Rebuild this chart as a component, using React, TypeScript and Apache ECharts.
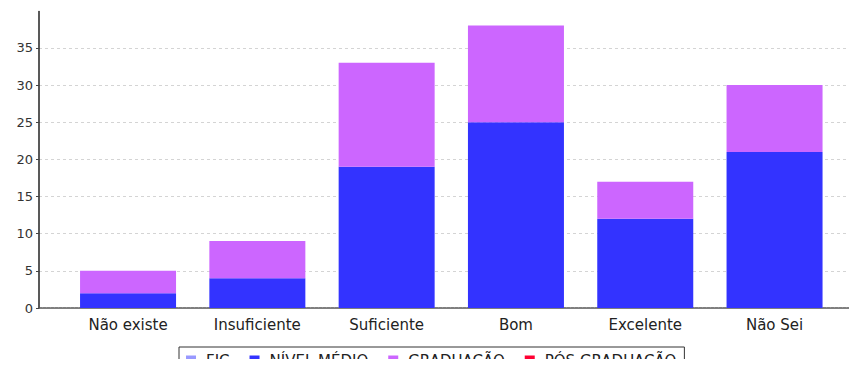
import React, { useEffect, useRef } from "react";
import * as echarts from "echarts";

const categories = ["Não existe", "Insuficiente", "Suficiente", "Bom", "Excelente", "Não Sei"];
const seriesNames = ["FIC", "NÍVEL MÉDIO", "GRADUAÇÃO", "PÓS GRADUAÇÃO"];
const fic = [0, 0, 0, 0, 0, 0];
const nivelMedio = [2, 4, 19, 25, 12, 21];
const graduacao = [3, 5, 14, 13, 5, 9];
const posGraduacao = [0, 0, 0, 0, 0, 0];
const colors = ["#9999FF", "#3333FF", "#CC66FF", "#FF0033"];

const FONT = "DejaVu Sans";
const Y_MAX = 39.9;
const H = 390;

export default function App() {
  const ref = useRef<HTMLDivElement>(null);
  useEffect(() => {
    if (!ref.current) return;
    const chart = echarts.init(ref.current, undefined, { renderer: "svg" });
    const values = [fic, nivelMedio, graduacao, posGraduacao];
    chart.setOption({
      animation: false,
      textStyle: { fontFamily: FONT },
      grid: [
        { left: 39, right: 5, top: 11.5, bottom: H - 308, containLabel: false },
        { left: 63.4, right: 17.8, top: 11.5, bottom: H - 308, containLabel: false },
      ],
      legend: {
        data: seriesNames,
        left: 179,
        top: 347,
        itemWidth: 10,
        itemHeight: 10,
        itemGap: 20,
        padding: [6, 8, 6, 7],
        borderColor: "#333",
        borderWidth: 1,
        icon: "rect",
        textStyle: { fontFamily: FONT, fontSize: 15, color: "#222", padding: [0, 0, 0, 5] },
      },
      xAxis: [
        {
          type: "value",
          gridIndex: 0,
          min: 0,
          max: 1,
          axisLabel: { show: false },
          axisTick: { show: false },
          splitLine: { show: false },
          axisLine: { show: true, lineStyle: { color: "#555", width: 1.5, type: [3, 1] } },
        },
        {
          type: "category",
          gridIndex: 1,
          data: categories,
          axisLine: { show: false },
          axisTick: { show: false },
          axisLabel: { fontFamily: FONT, fontSize: 15, color: "#222", margin: 9 },
        },
      ],
      yAxis: [
        {
          type: "value",
          gridIndex: 0,
          min: 0,
          max: Y_MAX,
          interval: 5,
          axisLine: { show: true, lineStyle: { color: "#222", width: 1.5 } },
          axisTick: { show: true, length: 3, lineStyle: { color: "#444" } },
          axisLabel: {
            fontFamily: FONT,
            fontSize: 13,
            color: "#333",
            margin: 6,
            showMaxLabel: false,
            formatter: (v: number) => (v % 5 === 0 ? String(v) : ""),
          },
          splitLine: {
            show: true,
            showMinLine: false,
            showMaxLine: false,
            lineStyle: { color: "#d4d4d4", type: [3, 3], width: 1 },
          },
        },
        {
          type: "value",
          gridIndex: 1,
          min: 0,
          max: Y_MAX,
          show: false,
          splitLine: { show: false },
        },
      ],
      series: seriesNames.map((name, i) => ({
        name,
        type: "bar",
        stack: "total",
        xAxisIndex: 1,
        yAxisIndex: 1,
        data: values[i],
        barWidth: 96,
        itemStyle: { color: colors[i] },
      })),
    });
    return () => chart.dispose();
  }, []);
  return (
    <div style={{ width: 857, height: 367, margin: -8, overflow: "hidden" }}>
      <div ref={ref} style={{ width: 857, height: H }} />
    </div>
  );
}
